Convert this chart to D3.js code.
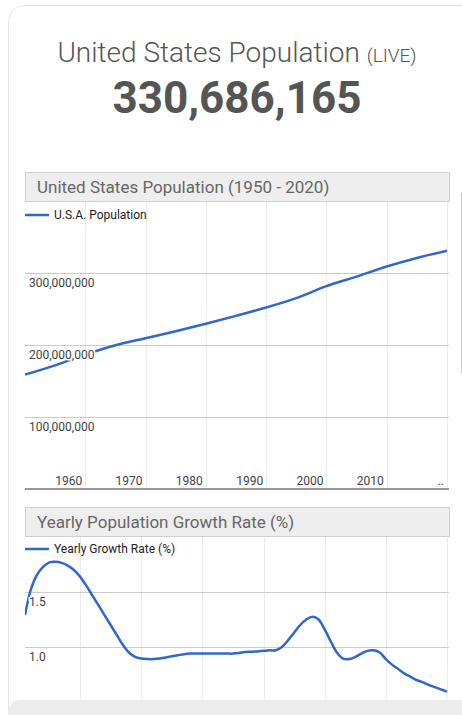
<!DOCTYPE html>
<html>
<head>
<meta charset="utf-8">
<script src="https://cdn.jsdelivr.net/npm/d3@7"></script>
<style>
  body { margin: 0; background: #fff; }
  svg { display: block; font-family: Roboto, "Noto Sans", sans-serif; }
</style>
</head>
<body>
<svg id="viz" width="462" height="715"></svg>
<script>
// population, millions, every 5 years
const popYears = [1950, 1955, 1960, 1965, 1970, 1975, 1980, 1985, 1990, 1995, 2000, 2005, 2010, 2015, 2020];
const popValues = [158.8, 171.7, 186.7, 199.7, 209.5, 219.1, 229.5, 240.5, 252.1, 265.2, 281.7, 295.0, 309.0, 320.9, 331.0];

// yearly growth rate (%), 1951 - 2020
const rateYears = d3.range(1951, 2021);
const rateValues = [
  1.29, 1.53, 1.66, 1.73, 1.77, 1.775, 1.765, 1.74, 1.70, 1.64,
  1.56, 1.47, 1.38, 1.29, 1.20, 1.11, 1.02, 0.95, 0.91, 0.895,
  0.89, 0.89, 0.895, 0.905, 0.915, 0.925, 0.935, 0.94, 0.94, 0.94,
  0.94, 0.94, 0.94, 0.94, 0.94, 0.945, 0.955, 0.957, 0.96, 0.965,
  0.97, 0.97, 1.00, 1.06, 1.13, 1.20, 1.25, 1.275, 1.25, 1.16,
  1.05, 0.95, 0.895, 0.89, 0.91, 0.94, 0.965, 0.97, 0.95, 0.89,
  0.84, 0.80, 0.76, 0.73, 0.70, 0.68, 0.655, 0.635, 0.615, 0.594
];

const decadeTicks = [1960, 1970, 1980, 1990, 2000, 2010, 2020];
const decadeLabels = ["1960", "1970", "1980", "1990", "2000", "2010", ".."];
const popTicks = [100, 200, 300];
const popTickLabels = ["100,000,000", "200,000,000", "300,000,000"];
const rateTicks = [1.0, 1.5];
const rateTickLabels = ["1.0", "1.5"];

const svg = d3.select("#viz");
const blue = "#3366cc";

// card
svg.append("rect")
  .attr("x", 8.5).attr("y", 5.5).attr("width", 490).attr("height", 740)
  .attr("rx", 16).attr("fill", "#fff").attr("stroke", "#e6e6e6");
svg.append("rect")
  .attr("x", 8).attr("y", 700).attr("width", 480).attr("height", 40)
  .attr("rx", 12).attr("fill", "#ececec");
svg.append("line")
  .attr("x1", 461.5).attr("x2", 461.5).attr("y1", 193).attr("y2", 373)
  .attr("stroke", "#cfcfcf");

// big title
const t = svg.append("text")
  .attr("x", 237).attr("y", 62).attr("text-anchor", "middle")
  .attr("fill", "#555").style("font-weight", 300);
t.append("tspan").style("font-size", "28px").text("United States Population ");
t.append("tspan").style("font-size", "19px").text("(LIVE)");

svg.append("text")
  .attr("x", 237).attr("y", 113).attr("text-anchor", "middle")
  .attr("fill", "#555").style("font-size", "44px").style("font-weight", 700)
  .text("330,686,165");

function drawPanel(opt) {
  const g = svg.append("g");
  const x = d3.scaleLinear().domain(opt.xDomain).range([25, 447]);
  const y = d3.scaleLinear().domain(opt.yDomain).range(opt.yRange);

  // header
  g.append("rect")
    .attr("x", 25.5).attr("y", opt.headTop + 0.5).attr("width", 424).attr("height", 29)
    .attr("fill", "#eeeeee").attr("stroke", "#d0d0d0");
  g.append("text")
    .attr("x", 37).attr("y", opt.headTop + 21)
    .attr("fill", "#666").style("font-size", "17px")
    .text(opt.title);

  // vertical grid
  g.selectAll(".vgrid").data(decadeTicks).enter().append("line")
    .attr("x1", (d) => Math.round(x(d)) + 0.5).attr("x2", (d) => Math.round(x(d)) + 0.5)
    .attr("y1", opt.headTop + 30).attr("y2", opt.plotBottom)
    .attr("stroke", "#ececec");

  // horizontal grid
  g.selectAll(".hgrid").data(opt.yTicks).enter().append("line")
    .attr("x1", 25).attr("x2", 449)
    .attr("y1", (d) => Math.round(y(d)) + 0.5).attr("y2", (d) => Math.round(y(d)) + 0.5)
    .attr("stroke", "#cccccc");

  // legend
  g.append("line")
    .attr("x1", 25).attr("x2", 49).attr("y1", opt.legendY).attr("y2", opt.legendY)
    .attr("stroke", blue).attr("stroke-width", 2.5);
  g.append("text")
    .attr("x", 54).attr("y", opt.legendY + 4)
    .attr("fill", "#222").style("font-size", "12px")
    .text(opt.legend);

  // clipped line
  const clipId = "clip" + opt.headTop;
  svg.append("clipPath").attr("id", clipId).append("rect")
    .attr("x", 25).attr("y", opt.headTop + 30).attr("width", 424)
    .attr("height", opt.plotBottom - opt.headTop - 30);
  const line = d3.line()
    .x((d) => x(d[0])).y((d) => y(d[1]))
    .curve(d3.curveCatmullRom.alpha(0.5));
  g.append("path")
    .datum(d3.zip(opt.xs, opt.ys))
    .attr("clip-path", "url(#" + clipId + ")")
    .attr("d", line)
    .attr("fill", "none").attr("stroke", blue).attr("stroke-width", 2.5)
    .attr("stroke-linejoin", "round");

  // y labels, under their gridline, with a white halo
  g.selectAll(".ylab").data(opt.yTicks).enter().append("text")
    .attr("x", 29).attr("y", (d) => y(d) + 14)
    .attr("fill", "#444").style("font-size", "12px")
    .attr("stroke", "#fff").attr("stroke-width", 3).attr("paint-order", "stroke")
    .text((d, i) => opt.yLabels[i]);

  if (opt.xLabelY) {
    g.selectAll(".xlab").data(decadeTicks).enter().append("text")
      .attr("x", (d) => x(d) - 3).attr("y", opt.xLabelY)
      .attr("text-anchor", "end")
      .attr("fill", "#444").style("font-size", "12px")
      .text((d, i) => decadeLabels[i]);
    g.append("line")
      .attr("x1", 25).attr("x2", 449).attr("y1", opt.plotBottom).attr("y2", opt.plotBottom)
      .attr("stroke", "#333").attr("stroke-width", 1.2);
  }
}

drawPanel({
  title: "United States Population (1950 - 2020)",
  legend: "U.S.A. Population",
  headTop: 172,
  legendY: 215,
  plotBottom: 489,
  xLabelY: 485,
  xDomain: [1950, 2020],
  yDomain: [0, 400],
  yRange: [489, 201],
  yTicks: popTicks,
  yLabels: popTickLabels,
  xs: popYears,
  ys: popValues
});

drawPanel({
  title: "Yearly Population Growth Rate (%)",
  legend: "Yearly Growth Rate (%)",
  headTop: 507,
  legendY: 549,
  plotBottom: 700,
  xLabelY: null,
  xDomain: [1951, 2020],
  yDomain: [1.0, 1.5],
  yRange: [647, 592],
  yTicks: rateTicks,
  yLabels: rateTickLabels,
  xs: rateYears,
  ys: rateValues
});
</script>
</body>
</html>
